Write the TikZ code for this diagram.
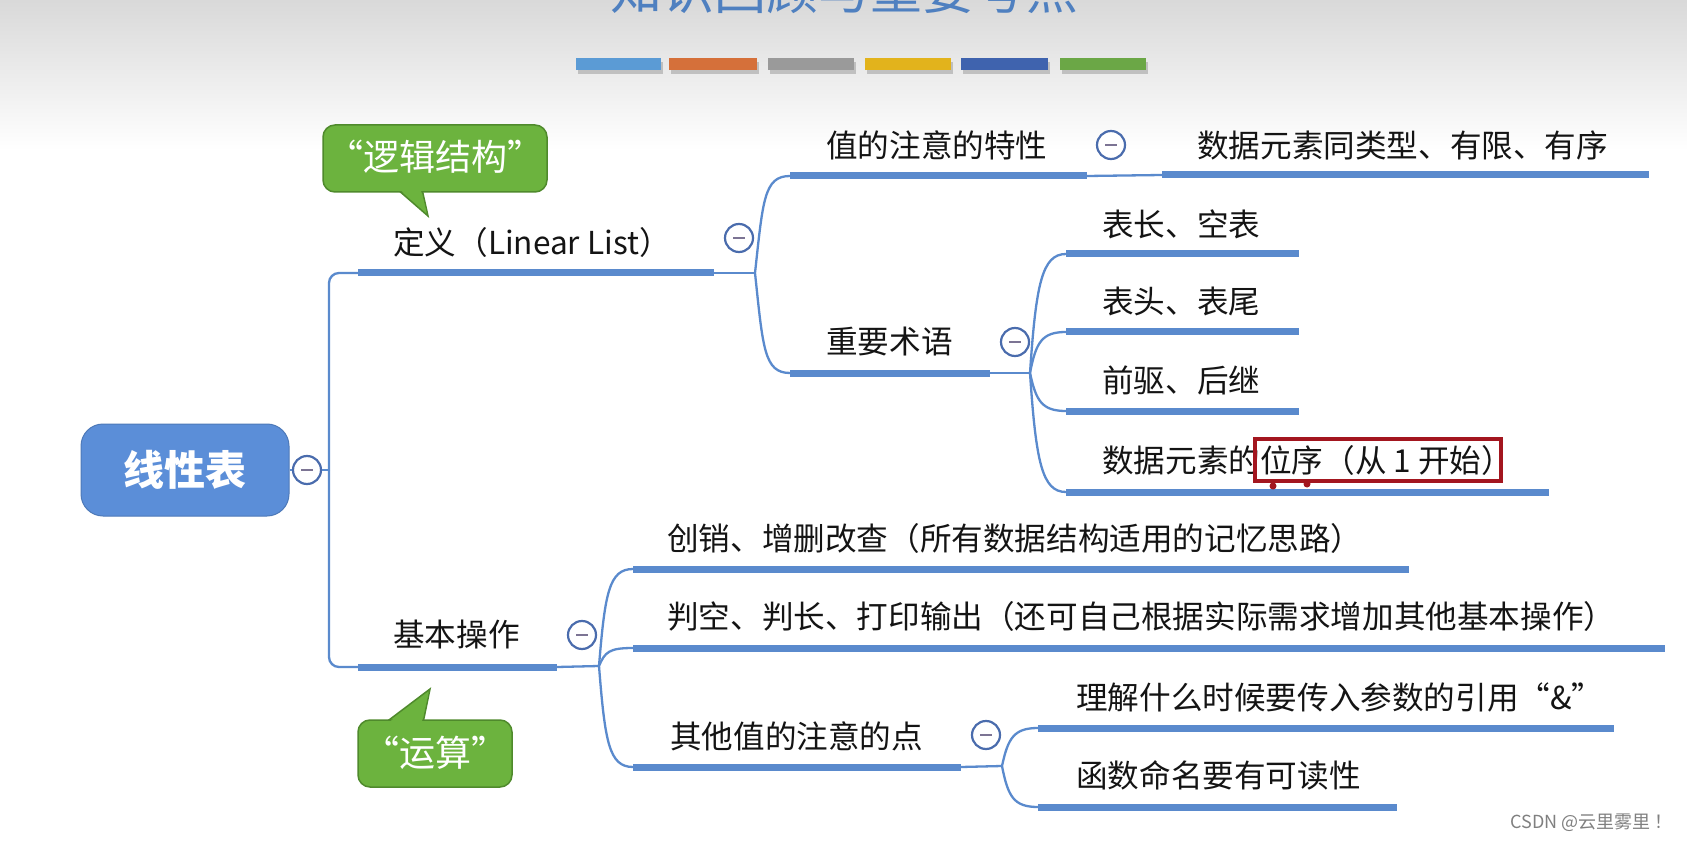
\documentclass[tikz,border=0pt]{standalone}
\usepackage{fontspec}
\setmainfont{Noto Sans CJK SC}
\usetikzlibrary{calc}
\definecolor{lineblue}{HTML}{5A8ACD}
\definecolor{rootblue}{HTML}{5B8ED8}
\definecolor{circblue}{HTML}{4A6CAD}
\definecolor{minusc}{HTML}{7C7494}
\definecolor{callgreen}{HTML}{6CB33E}
\definecolor{callborder}{HTML}{4F8A2C}
\definecolor{redbox}{HTML}{A3161F}
\definecolor{titleblue}{HTML}{4F80C0}
\definecolor{barA}{HTML}{5B9BD5}
\definecolor{barB}{HTML}{D5703A}
\definecolor{barC}{HTML}{9A9A9A}
\definecolor{barD}{HTML}{E2B31C}
\definecolor{barE}{HTML}{3F63AE}
\definecolor{barF}{HTML}{6BA746}
\begin{document}
\begin{tikzpicture}[x=1pt,y=-1pt,
  ul/.style={line width=7pt, draw=lineblue},
  conn/.style={line width=2.3pt, draw=lineblue},
  lbl/.style={anchor=west, inner sep=0pt, font=\fontsize{31.6}{36}\selectfont, text=black!92},
  tog/.style={circle, draw=circblue, line width=2.2pt, fill=white, minimum size=28pt, inner sep=0pt,
    path picture={\draw[minusc, line width=2.5pt] ([xshift=-6pt]path picture bounding box.center) -- ([xshift=6pt]path picture bounding box.center);}},
  rootbox/.style={rectangle, rounded corners=22pt, fill=rootblue, draw=rootblue!85!black, line width=1pt,
    minimum width=208pt, minimum height=92pt, text=white, font=\fontsize{41}{48}\selectfont\bfseries},
  callout/.style={fill=callgreen, draw=callborder, line width=1.5pt},
  calltext/.style={text=white, inner sep=0pt, font=\fontsize{36}{42}\selectfont},
]
\useasboundingbox (0,0) rectangle (1687,842);
\clip (0,0) rectangle (1687,842);
\fill[white] (0,0) rectangle (1687,842);
\shade[top color=gray!30, bottom color=white] (0,0) rectangle (1687,150);

% title (cut off at top)
\node[anchor=base, inner sep=0pt, text=titleblue, font=\fontsize{52}{60}\selectfont] (title) at (844,10) {知识回顾与重要考点};

% colour bars
\foreach \a/\b/\c in {576/661/barA, 669/757/barB, 768/854/barC, 865/951/barD, 961/1048/barE, 1060/1146/barF}{
  \fill[gray, opacity=.4] (\a+2,62) rectangle (\b+2,74);
  \fill[\c] (\a,58) rectangle (\b,70);
}

% root
\node[rootbox] (root) at (185,470) {线性表};
\node[tog] (t0) at (307,470) {};
\coordinate (J0) at (329,470);
\coordinate (A1s) at (358,273); \coordinate (A1e) at (714,273);
\coordinate (A2s) at (358,667); \coordinate (A2e) at (557,667);
\draw[conn] (root.east) -- (t0.west);
\draw[conn] (t0.east) -- (J0);
\draw[conn, rounded corners=10pt] (J0) |- (A1s);
\draw[conn, rounded corners=10pt] (J0) |- (A2s);
\draw[ul] (A1s) -- (A1e);
\draw[ul] (A2s) -- (A2e);
\node[lbl] (def) at (393,242) {定义（Linear List）};
\node[lbl] (ops) at (393,635) {基本操作};

% definition subtree
\node[tog] (t1) at (739,238) {};
\coordinate (J1) at (755,273);
\coordinate (B1s) at (790,176); \coordinate (B1e) at (1087,176);
\coordinate (B2s) at (790,373); \coordinate (B2e) at (990,373);
\draw[conn] (A1e) -- (J1);
\draw[conn] (J1) .. controls +(8,-73) and +(-26,0) .. (B1s);
\draw[conn] (J1) .. controls +(8,75) and +(-26,0) .. (B2s);
\draw[ul] (B1s) -- (B1e);
\draw[ul] (B2s) -- (B2e);
\node[lbl] (val) at (826,145) {值的注意的特性};
\node[lbl] (imp) at (826,342) {重要术语};

\node[tog] (t2) at (1111,145) {};
\coordinate (C1s) at (1162,175); \coordinate (C1e) at (1649,175);
\draw[conn] (B1e) -- (C1s);
\draw[ul] (C1s) -- (C1e);
\node[lbl] (same) at (1197,145) {数据元素同类型、有限、有序};

% terms subtree
\node[tog] (t3) at (1015,342) {};
\coordinate (J3) at (1030,373);
\coordinate (D1s) at (1066,254); \coordinate (D1e) at (1299,254);
\coordinate (D2s) at (1066,332); \coordinate (D2e) at (1299,332);
\coordinate (D3s) at (1066,411); \coordinate (D3e) at (1299,411);
\coordinate (D4s) at (1066,492); \coordinate (D4e) at (1549,492);
\draw[conn] (B2e) -- (J3);
\draw[conn] (J3) .. controls +(6,-89) and +(-24,0) .. (D1s);
\draw[conn] (J3) .. controls +(6,-31) and +(-24,0) .. (D2s);
\draw[conn] (J3) .. controls +(6,28) and +(-24,0) .. (D3s);
\draw[conn] (J3) .. controls +(6,89) and +(-24,0) .. (D4s);
\draw[ul] (D1s) -- (D1e);
\draw[ul] (D2s) -- (D2e);
\draw[ul] (D3s) -- (D3e);
\draw[ul] (D4s) -- (D4e);
\node[lbl] (len) at (1102,224) {表长、空表};
\node[lbl] (head) at (1102,301) {表头、表尾};
\node[lbl] (pred) at (1102,380) {前驱、后继};
\node[lbl] (pos) at (1102,460) {数据元素的位序（从 1 开始）};
\node[draw=redbox, line width=4pt, minimum width=246pt, minimum height=42pt, inner sep=0pt] (mark) at (1378,460) {};
\fill[redbox] (1273,486) circle (3.5);
\fill[redbox] (1307,484) circle (3.5);

% operations subtree
\node[tog] (t4) at (582,635) {};
\coordinate (J4) at (599,666);
\coordinate (E1s) at (633,569); \coordinate (E1e) at (1409,569);
\coordinate (E2s) at (633,648); \coordinate (E2e) at (1665,648);
\coordinate (E3s) at (633,767); \coordinate (E3e) at (961,767);
\draw[conn] (A2e) -- (J4);
\draw[conn] (J4) .. controls +(6,-73) and +(-24,0) .. (E1s);
\draw[conn] (J4) .. controls +(6,-14) and +(-24,0) .. (E2s);
\draw[conn] (J4) .. controls +(6,76) and +(-24,0) .. (E3s);
\draw[ul] (E1s) -- (E1e);
\draw[ul] (E2s) -- (E2e);
\draw[ul] (E3s) -- (E3e);
\node[lbl] (crud) at (667,538) {创销、增删改查（所有数据结构适用的记忆思路）};
\node[lbl] (judge) at (667,616) {判空、判长、打印输出（还可自己根据实际需求增加其他基本操作）};
\node[lbl] (other) at (670,736) {其他值的注意的点};

\node[tog] (t5) at (986,735) {};
\coordinate (J5) at (1002,766);
\coordinate (F1s) at (1038,728); \coordinate (F1e) at (1614,728);
\coordinate (F2s) at (1038,807); \coordinate (F2e) at (1397,807);
\draw[conn] (E3e) -- (J5);
\draw[conn] (J5) .. controls +(6,-28) and +(-24,0) .. (F1s);
\draw[conn] (J5) .. controls +(6,31) and +(-24,0) .. (F2s);
\draw[ul] (F1s) -- (F1e);
\draw[ul] (F2s) -- (F2e);
\node[lbl] (ref) at (1076,697) {理解什么时候要传入参数的引用“\&”};
\node[lbl] (name) at (1076,775) {函数命名要有可读性};

% callouts
\draw[callout] (397,189) -- (428,216) -- (422,189) -- cycle;
\draw[callout, rounded corners=12pt] (323,125) rectangle (547,192);
\fill[callgreen] (399,189) -- (426.5,212) -- (420.5,189) -- cycle;
\node[calltext] (c1) at (435,157) {“逻辑结构”};

\draw[callout] (385,723) -- (430,689) -- (423,723) -- cycle;
\draw[callout, rounded corners=12pt] (358,720) rectangle (512,787);
\fill[callgreen] (388,723) -- (428.5,693) -- (421.5,723) -- cycle;
\node[calltext] (c2) at (435,753) {“运算”};

% watermark
\node[anchor=east, inner sep=0pt, text=gray, font=\fontsize{18}{22}\selectfont] (wm) at (1673,823) {CSDN @云里雾里 ！};
\end{tikzpicture}
\end{document}
